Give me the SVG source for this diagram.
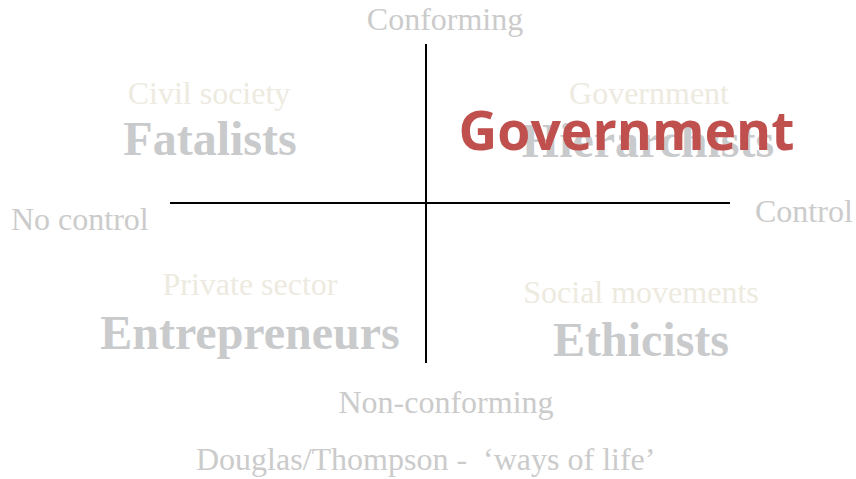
<svg xmlns="http://www.w3.org/2000/svg" width="856" height="479" viewBox="0 0 856 479">
<style>
.lbl{font-family:"Liberation Serif","Times New Roman",serif;font-size:32px;fill:#CBCBCB}
.sub{font-family:"Liberation Serif","Times New Roman",serif;font-size:32px;fill:#EDEAE0}
.big{font-family:"Liberation Serif","Times New Roman",serif;font-size:48px;font-weight:bold;fill:#C9CACC}
.red{font-family:"Open Sans","Liberation Sans",sans-serif;font-size:53.5px;font-weight:bold;fill:#C0504D}
.axis{stroke:#000;stroke-width:2;fill:none}
</style>
<rect width="856" height="479" fill="#fff"/>
<g id="connectors">
<line class="axis" x1="426" y1="44" x2="426" y2="363"/>
<line class="axis" x1="170" y1="203" x2="730" y2="203"/>
</g>
<g id="axis-labels">
<text class="lbl" x="445" y="30" text-anchor="middle">Conforming</text>
<text class="lbl" x="446" y="413" text-anchor="middle">Non-conforming</text>
<text class="lbl" x="11" y="230">No control</text>
<text class="lbl" x="755" y="222">Control</text>
</g>
<g id="fatalists">
<text class="sub" x="209" y="104" text-anchor="middle">Civil society</text>
<text class="big" x="210" y="155" text-anchor="middle">Fatalists</text>
</g>
<g id="hierarchists">
<text class="sub" x="649" y="104" text-anchor="middle">Government</text>
<text class="big" x="648" y="157" text-anchor="middle">Hierarchists</text>
<text class="red" x="626.5" y="150" text-anchor="middle">Government</text>
</g>
<g id="entrepreneurs">
<text class="sub" x="250" y="295" text-anchor="middle">Private sector</text>
<text class="big" x="250" y="349" text-anchor="middle">Entrepreneurs</text>
</g>
<g id="ethicists">
<text class="sub" x="641" y="303" text-anchor="middle">Social movements</text>
<text class="big" x="641" y="356" text-anchor="middle">Ethicists</text>
</g>
<g id="caption">
<text class="lbl" x="196" y="470" xml:space="preserve">Douglas/Thompson -  ‘ways of life’</text>
</g>
</svg>
